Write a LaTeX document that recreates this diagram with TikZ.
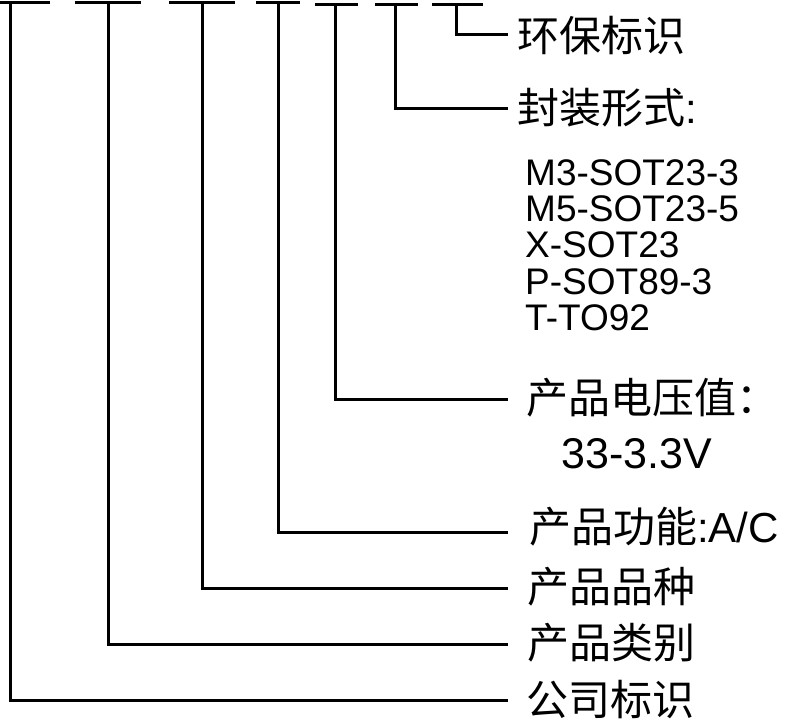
\documentclass[tikz,border=0pt]{standalone}
\usepackage{fontspec}
\setmainfont{Liberation Sans}
\newfontfamily\cjk{Noto Sans CJK SC}
\begin{document}
\begin{tikzpicture}[x=1pt,y=-1pt,
  wire/.style={line width=3pt,black},
  cnlabel/.style={anchor=west,inner sep=0pt,font=\cjk\fontsize{42}{48}\selectfont},
  pkglabel/.style={anchor=west,inner sep=0pt,font=\fontsize{37}{42}\selectfont},
  vlabel/.style={anchor=west,inner sep=0pt,font=\fontsize{43}{48}\selectfont}]
\useasboundingbox (0,0) rectangle (790,720);
% label nodes
\node[cnlabel] (l7) at (517,36) {环保标识};
\node[cnlabel] (l6) at (517,108) {封装形式{\rmfamily:}};
\node[pkglabel] (p1) at (525,173) {M3-SOT23-3};
\node[pkglabel] (p2) at (525,209) {M5-SOT23-5};
\node[pkglabel] (p3) at (525,245) {X-SOT23};
\node[pkglabel] (p4) at (525,282) {P-SOT89-3};
\node[pkglabel] (p5) at (525,318) {T-TO92};
\node[cnlabel] (l5) at (526,398) {产品电压值：};
\node[vlabel] (v) at (561,454) {33-3.3V};
\node[cnlabel] (l4) at (529,527) {产品功能{\rmfamily:A/C}};
\node[cnlabel] (l3) at (527,587) {产品品种};
\node[cnlabel] (l2) at (527,643) {产品类别};
\node[cnlabel] (l1) at (526,700) {公司标识};
% bar ends and line ends
\coordinate (a1) at (0,2);   \coordinate (b1) at (50,2);  \coordinate (t1) at (10,2);   \coordinate (e1) at (508,700);
\coordinate (a2) at (75,2);  \coordinate (b2) at (141,2); \coordinate (t2) at (108,2);  \coordinate (e2) at (508,644);
\coordinate (a3) at (169,2); \coordinate (b3) at (235,2); \coordinate (t3) at (202,2);  \coordinate (e3) at (508,588);
\coordinate (a4) at (256,2); \coordinate (b4) at (300,2); \coordinate (t4) at (278,2);  \coordinate (e4) at (508,532);
\coordinate (a5) at (315,4); \coordinate (b5) at (358,4); \coordinate (t5) at (335,4);  \coordinate (e5) at (508,399);
\coordinate (a6) at (375,4); \coordinate (b6) at (418,4); \coordinate (t6) at (395,4);  \coordinate (e6) at (508,108);
\coordinate (a7) at (432,4); \coordinate (b7) at (483,4); \coordinate (t7) at (456,4);  \coordinate (e7) at (508,34);
\foreach \i in {1,...,7}{
  \draw[wire] (a\i) -- (b\i);
  \draw[wire] (t\i) |- (e\i);
}
\end{tikzpicture}
\end{document}
